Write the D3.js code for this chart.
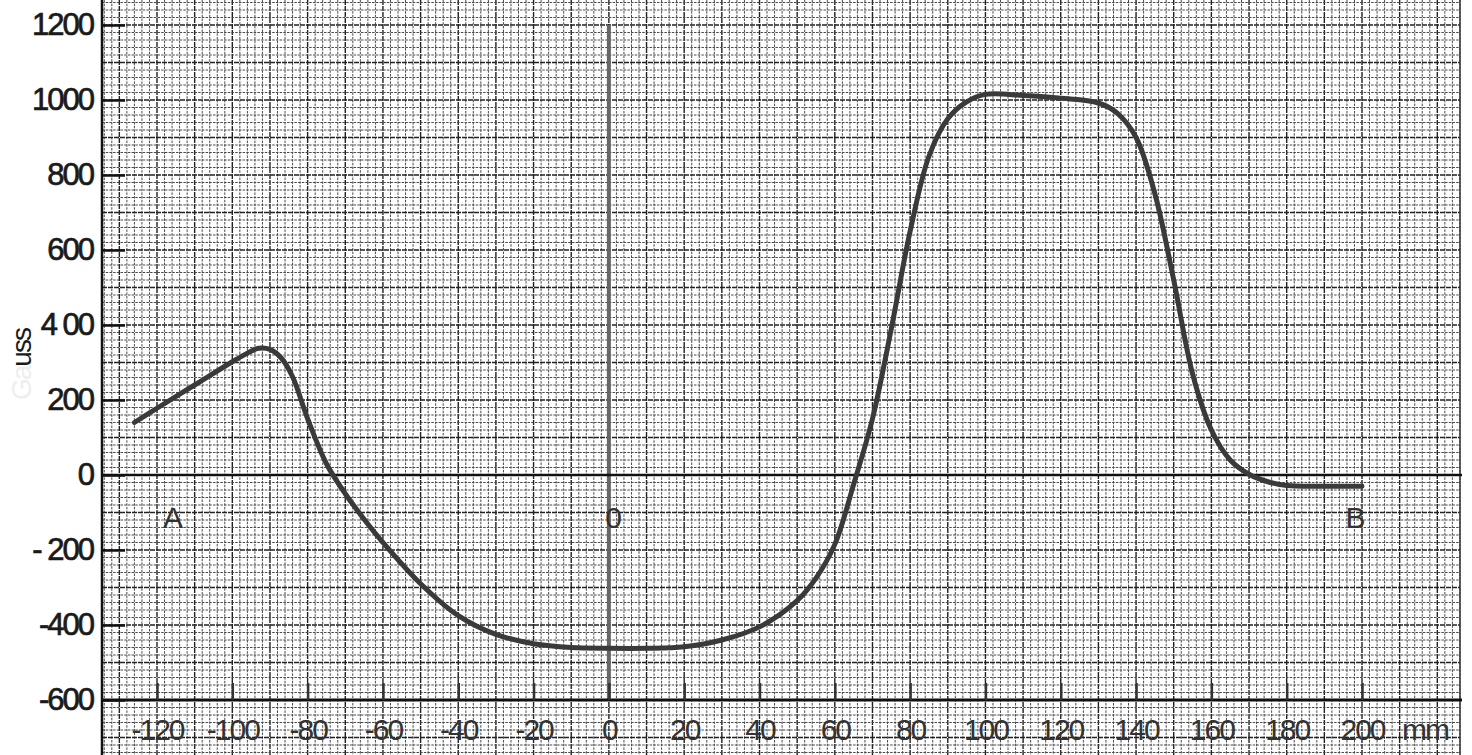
<!DOCTYPE html>
<html>
<head>
<meta charset="utf-8">
<script src="https://cdn.jsdelivr.net/npm/d3@7"></script>
<style>
  body { margin: 0; background: #fff; }
  svg { display: block; }
  .lbl { font-family: "Liberation Sans", Arial, sans-serif; letter-spacing: -2px; fill: #1a1a1a; }
</style>
</head>
<body>
<div id="chart"></div>
<script>
// ******* data *******
var positions = [-126, -120, -110, -100, -96, -93, -90, -87, -84, -80, -75, -70, -65, -60, -50, -40, -30, -20, -10, 0, 10, 20, 30, 40, 50, 55, 60, 65, 70, 75, 80, 85, 90, 95, 100, 110, 120, 130, 135, 140, 145, 150, 155, 160, 165, 170, 175, 180, 190, 200];
var field = [140, 178, 240, 302, 325, 338, 335, 312, 262, 150, 30, -50, -118, -180, -290, -375, -425, -450, -460, -462, -462, -458, -440, -405, -335, -275, -185, -25, 150, 390, 650, 850, 950, 995, 1015, 1012, 1005, 992, 965, 900, 750, 520, 270, 120, 40, 2, -18, -28, -30, -30];
var xTicks = [-120, -100, -80, -60, -40, -20, 0, 20, 40, 60, 80, 100, 120, 140, 160, 180, 200];
var yTicks = [-600, -400, -200, 0, 200, 400, 600, 800, 1000, 1200];
var yTickLabels = ["-600", "-400", "- 200", "0", "200", "4 00", "600", "800", "1000", "1200"];
var points = [{ name: "A", x: -116, y: -140 }, { name: "0", x: 1, y: -140 }, { name: "B", x: 198, y: -140 }];

// ******* set up *******
var w = 1472;
var h = 755;
var svg = d3.select("#chart").append("svg").attr("width", w).attr("height", h);

var x = d3.scaleLinear().domain([-120, 200]).range([157, 1362]);
var y = d3.scaleLinear().domain([-600, 1200]).range([700, 25]);

var paperLeft = 102, paperRight = 1460;

// ******* graph paper *******
var grid = svg.append("g");
var xMin = x.invert(paperLeft), xMax = x.invert(paperRight);
var yMin = y.invert(h), yMax = y.invert(0);

d3.range(Math.ceil(xMin / 2) * 2, xMax, 2).forEach(function (v) {
  var major = v % 10 === 0;
  grid.append("line")
    .attr("x1", x(v)).attr("x2", x(v)).attr("y1", 0).attr("y2", h)
    .attr("stroke", major ? "#222" : "#4a4a4a")
    .attr("stroke-width", major ? 1.4 : 1)
    .attr("stroke-dasharray", major ? "5,1" : "2.5,1.2");
});
d3.range(Math.ceil(yMin / 20) * 20, yMax, 20).forEach(function (v) {
  var major = v % 100 === 0;
  grid.append("line")
    .attr("x1", paperLeft).attr("x2", paperRight).attr("y1", y(v)).attr("y2", y(v))
    .attr("stroke", major ? "#222" : "#4a4a4a")
    .attr("stroke-width", major ? 1.4 : 1)
    .attr("stroke-dasharray", major ? "5,1" : "2.5,1.2");
});
// paper edges
svg.append("line").attr("x1", paperLeft).attr("x2", paperLeft).attr("y1", 0).attr("y2", h)
  .attr("stroke", "#111").attr("stroke-width", 2.5);
svg.append("line").attr("x1", paperRight).attr("x2", paperRight).attr("y1", 0).attr("y2", h)
  .attr("stroke", "#333").attr("stroke-width", 1.5);

// ******* reference lines *******
svg.append("line").attr("x1", x(0)).attr("x2", x(0)).attr("y1", y(1200)).attr("y2", y(-600))
  .attr("stroke", "#666").attr("stroke-width", 4);
svg.append("line").attr("x1", paperLeft).attr("x2", paperRight + 2).attr("y1", y(0)).attr("y2", y(0))
  .attr("stroke", "#111").attr("stroke-width", 2.5);
svg.append("line").attr("x1", paperLeft).attr("x2", paperRight + 2).attr("y1", y(-600)).attr("y2", y(-600))
  .attr("stroke", "#111").attr("stroke-width", 3);

// ******* axes *******
var xAxis = svg.append("g")
  .attr("transform", "translate(0," + y(-600) + ")")
  .call(d3.axisBottom(x).tickValues(xTicks).tickSize(-17).tickPadding(19).tickFormat(d3.format("d")));
xAxis.select(".domain").remove();
xAxis.selectAll(".tick line").attr("stroke", "#333").attr("stroke-width", 2.5);
xAxis.selectAll(".tick text").attr("class", "lbl").attr("font-size", 30).style("fill", "#333")
  .text(function (d) { return d < 0 ? "-" + Math.abs(d) : d; });

var yAxis = svg.append("g")
  .attr("transform", "translate(" + paperLeft + ",0)")
  .call(d3.axisLeft(y).tickValues(yTicks).tickSize(-23).tickPadding(9)
    .tickFormat(function (d, i) { return yTickLabels[i]; }));
yAxis.select(".domain").remove();
yAxis.selectAll(".tick line").attr("stroke", "#111").attr("stroke-width", 2.5);
yAxis.selectAll(".tick text").attr("class", "lbl").attr("font-size", 31)
  .style("stroke", "#1a1a1a").style("stroke-width", 0.7);

svg.append("text").attr("class", "lbl")
  .attr("x", x(200) + 40).attr("y", y(-600) + 40)
  .attr("font-size", 30).style("fill", "#333")
  .text("mm");

// axis title, mostly lost at the paper margin
svg.append("text").attr("class", "lbl")
  .attr("transform", "translate(31,400) rotate(-90)")
  .attr("font-size", 28)
  .html('<tspan fill="#eeeeee">Ga</tspan>uss');

// ******* curve *******
var series = positions.map(function (p, i) { return { x: p, y: field[i] }; });
var line = d3.line().x(d => x(d.x)).y(d => y(d.y)).curve(d3.curveCatmullRom.alpha(0.5));
svg.append("path")
  .datum(series)
  .attr("d", line)
  .attr("fill", "none")
  .attr("stroke", "#3a3a3a")
  .attr("stroke-width", 5)
  .attr("stroke-linecap", "round");

// ******* point labels *******
svg.selectAll(".ptlabel")
  .data(points)
  .enter()
  .append("text")
  .attr("class", "lbl ptlabel")
  .attr("x", d => x(d.x))
  .attr("y", d => y(d.y))
  .attr("font-size", 30)
  .attr("text-anchor", "middle")
  .style("fill", "#333")
  .text(d => d.name);
</script>
</body>
</html>
